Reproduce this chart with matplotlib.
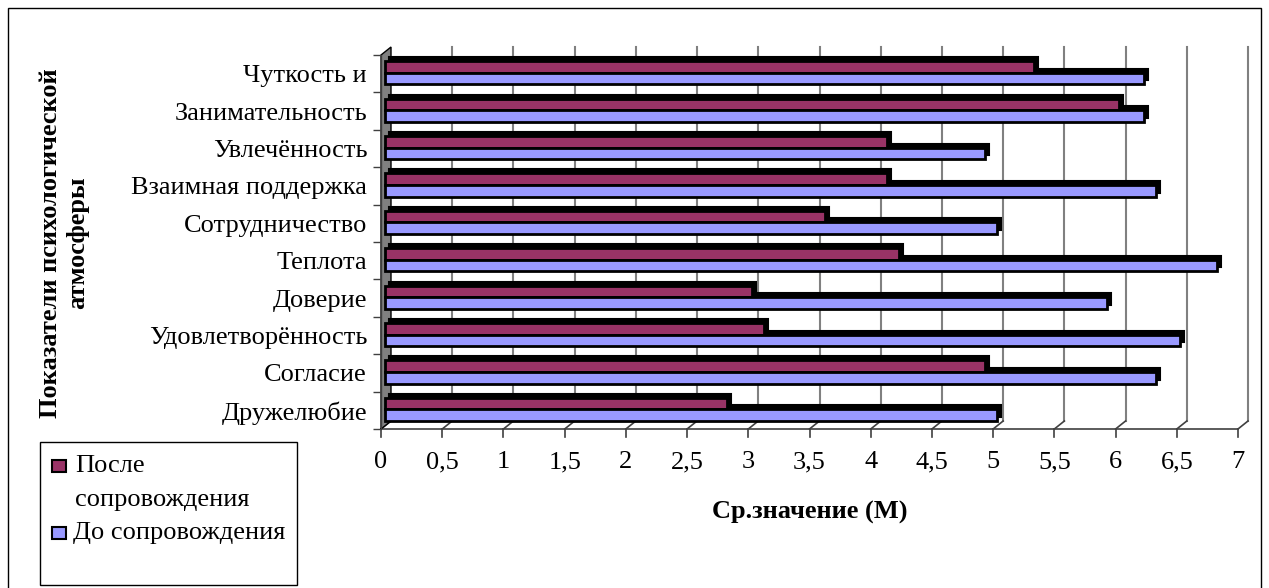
import numpy as np
import matplotlib
matplotlib.use("Agg")
import matplotlib.pyplot as plt
from matplotlib.patches import Rectangle, Polygon

plt.rcParams['font.family'] = ['Liberation Serif', 'DejaVu Serif']

categories = ["Чуткость и", "Занимательность", "Увлечённость", "Взаимная поддержка",
              "Сотрудничество", "Теплота", "Доверие", "Удовлетворённость",
              "Согласие", "Дружелюбие"]
after_vals = [5.3, 6.0, 4.1, 4.1, 3.6, 4.2, 3.0, 3.1, 4.9, 2.8]
before_vals = [6.2, 6.2, 4.9, 6.3, 5.0, 6.8, 5.9, 6.5, 6.3, 5.0]
xticks = np.arange(0, 7.01, 0.5)
xtick_labels = [("%g" % v).replace(".", ",") for v in xticks]
red = "#993366"
blue = "#9999FF"
FS = 19

W, H = 1269, 588
fig = plt.figure(figsize=(W / 100, H / 100), dpi=100)
x0, x1, y0, y1 = 381, 1238, 55, 429
ax = fig.add_axes([x0 / W, 1 - y1 / H, (x1 - x0) / W, (y1 - y0) / H])
ax.set_xlim(0, 7)
ax.set_ylim(10, 0)
for s in ax.spines.values():
    s.set_visible(False)

pxx = 7 / (x1 - x0)          # data units per pixel (x)
pxy = 10 / (y1 - y0)         # data units per pixel (y)
dx, dy = 10 * pxx, 8 * pxy   # depth offset of back wall

# left wall
ax.add_patch(Polygon([(0, 10), (dx, 10 - dy), (dx, -dy), (0, 0)], closed=True,
                     facecolor="#808080", edgecolor="black", lw=1, clip_on=False, zorder=1))
# gridlines on back wall + floor slants + ticks
for v in xticks:
    if v > 0:
        ax.plot([v + dx, v + dx], [10 - dy, -dy], color="#808080", lw=1.5, clip_on=False, zorder=0.5)
    ax.plot([v, v + dx], [10, 10 - dy], color="#404040", lw=1.2, clip_on=False, zorder=0.6)
    ax.plot([v, v], [10, 10 + 8 * pxy], color="#404040", lw=1.2, clip_on=False, zorder=0.6)
ax.plot([0, 7], [10, 10], color="#404040", lw=1.2, clip_on=False, zorder=0.6)

# bars
ypos = np.arange(len(categories))
h = 0.31
red_c = ypos + 0.32
blue_c = ypos + 0.63
sdx, sdy = 4 * pxx, 4 * pxy
for centers, vals, col in [(red_c, after_vals, red), (blue_c, before_vals, blue)]:
    ax.barh(centers - sdy, vals, height=h, left=sdx + 0.03, color="black", edgecolor="black",
            lw=1.5, zorder=2)
    ax.barh(centers, vals, height=h, left=0.03, color=col, edgecolor="black", lw=2, zorder=3)

# y axis
ax.set_yticks(ypos + 0.5)
ax.set_yticklabels(categories, fontsize=FS)
ax.set_yticks(np.arange(11), minor=True)
ax.tick_params(axis="y", which="major", length=0, pad=10)
ax.tick_params(axis="y", which="minor", length=6, width=1, color="#404040")
ax.plot([0, 0], [0, 10], color="#404040", lw=1, zorder=1)

ax.set_xticks(xticks)
ax.set_xticklabels(xtick_labels, fontsize=FS)
ax.tick_params(axis="x", length=0, pad=16)

fig.text(810 / W, 1 - 512 / H, "Ср.значение (М)", fontsize=FS, fontweight="bold",
         ha="center", va="center")
fig.text(64 / W, 1 - 243 / H, "Показатели психологической\nатмосферы", fontsize=FS,
         fontweight="bold", ha="center", va="center", rotation=90, linespacing=1.2)

# legend
def px_rect(x, y, w, hgt, **kw):
    fig.patches.append(Rectangle((x / W, 1 - (y + hgt) / H), w / W, hgt / H,
                                 transform=fig.transFigure, **kw))

px_rect(40, 442, 257, 143, facecolor="white", edgecolor="black", lw=1)
px_rect(52, 460, 14, 12, facecolor=red, edgecolor="black", lw=1.5)
px_rect(52, 527, 14, 12, facecolor=blue, edgecolor="black", lw=1.5)
fig.text(75 / W, 1 - 466 / H, "После", fontsize=FS, ha="left", va="center")
fig.text(75 / W, 1 - 500 / H, "сопровождения", fontsize=FS, ha="left", va="center")
fig.text(73 / W, 1 - 533 / H, "До сопровождения", fontsize=FS, ha="left", va="center")

# outer frame
px_rect(8, 8, 1253, 600, facecolor="none", edgecolor="black", lw=1)

fig.savefig("out.png", dpi=100)
